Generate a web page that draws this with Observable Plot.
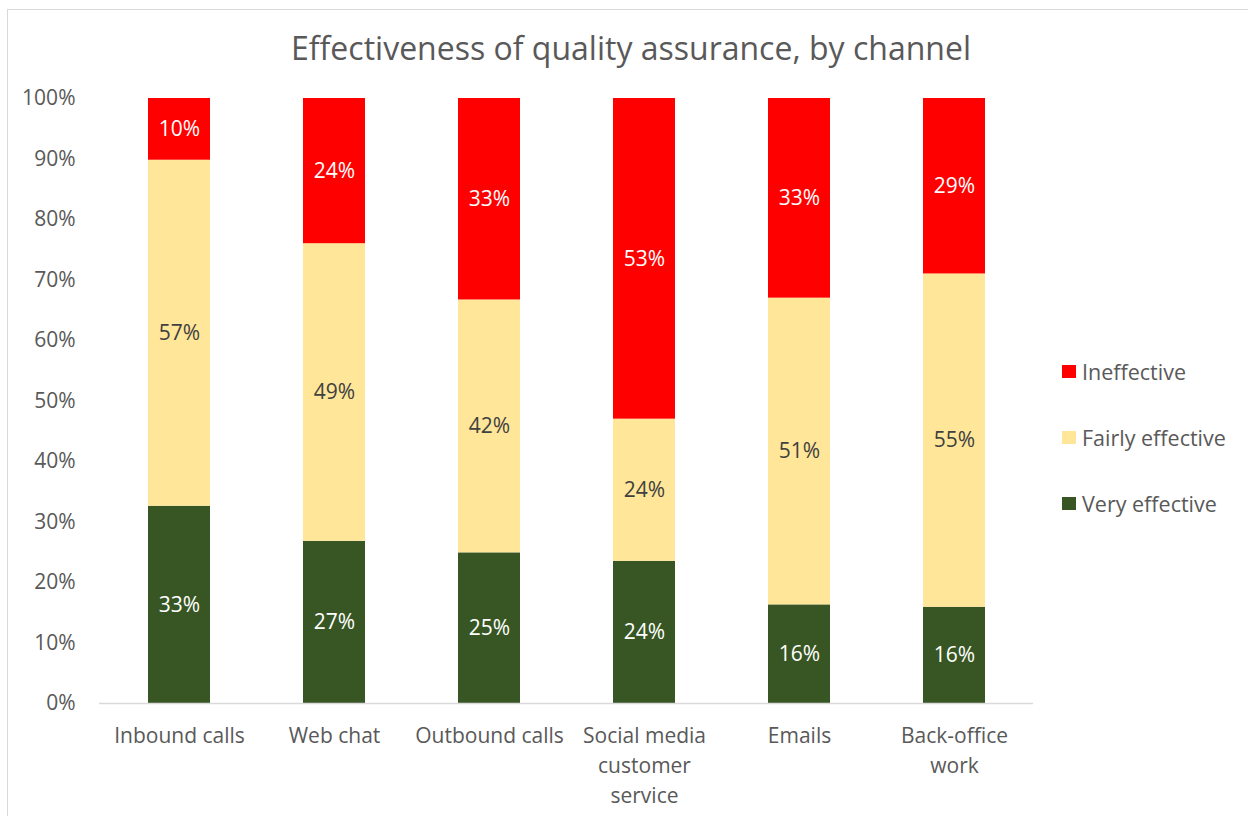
<!DOCTYPE html>
<html><head><meta charset="utf-8">
<script src="https://cdn.jsdelivr.net/npm/d3@7"></script>
<script src="https://cdn.jsdelivr.net/npm/@observablehq/plot@0.6"></script>
<style>
body{margin:0;background:#fff;font-family:"Open Sans",sans-serif;}
#chart{position:relative;width:1248px;height:816px;overflow:hidden;background:#fff;}
#frame{position:absolute;left:7px;top:9px;width:1260px;height:830px;border-top:1.5px solid #d9d9d9;border-left:1.5px solid #d9d9d9;}
#title{position:absolute;left:0;width:1262px;top:26px;text-align:center;font-size:32px;color:#595959;white-space:nowrap;}
#plot{position:absolute;left:0;top:80px;}
#legend{position:absolute;left:1062px;top:338.5px;}
.item{display:flex;align-items:center;height:66px;font-size:21.5px;color:#595959;white-space:nowrap;}
.sw{width:14px;height:13px;margin-right:6px;flex:none;}
</style>
</head><body>
<div id="chart">
  <div id="frame"></div>
  <div id="title">Effectiveness of quality assurance, by channel</div>
  <div id="plot"></div>
  <div id="legend"></div>
</div>
<script>
const channels = ["Inbound calls","Web chat","Outbound calls","Social media customer service","Emails","Back-office work"];
const xTickLabels = ["Inbound calls","Web chat","Outbound calls","Social media\ncustomer\nservice","Emails","Back-office\nwork"];
const categories = ["Very effective","Fairly effective","Ineffective"];
const veryEffective   = [32.6, 26.8, 24.9, 23.5, 16.3, 15.9];
const fairlyEffective = [57.2, 49.2, 41.8, 23.5, 50.7, 55.1];
const ineffective     = [10.2, 24.0, 33.3, 53.0, 33.0, 29.0];
const colors = ["#375623","#ffe699","#ff0000"];
const yTicks = [0,10,20,30,40,50,60,70,80,90,100];

const seriesValues = [veryEffective, fairlyEffective, ineffective];
const rows = [];
categories.forEach((c, ci) => channels.forEach((ch, i) => rows.push({channel: ch, category: c, value: seriesValues[ci][i]})));

const font = "Open Sans";
const chart = Plot.plot({
  width: 1248, height: 736,
  marginTop: 18, marginBottom: 113, marginLeft: 99, marginRight: 215,
  style: {fontFamily: font, background: "transparent", overflow: "visible"},
  x: {domain: channels, paddingInner: 0.6, paddingOuter: 0.3, axis: null},
  y: {domain: [0, 100], axis: null},
  color: {domain: categories, range: colors},
  marks: [
    Plot.axisY({ticks: yTicks, tickFormat: d => d + "%", tickSize: 0, tickPadding: 24, fontSize: 21, fill: "#595959", label: null}),
    Plot.axisX({tickSize: 0, tickPadding: 18, tickFormat: d => xTickLabels[channels.indexOf(d)], fontSize: 21, lineHeight: 1.43, fill: "#595959", label: null}),
    Plot.barY(rows, {x: "channel", y: "value", fill: "category"}),
    Plot.ruleY([0], {stroke: "#d9d9d9", strokeWidth: 1.5}),
    Plot.text(rows, Plot.stackY({x: "channel", y: "value", z: "category",
      text: d => d.category === "Fairly effective" ? null : Math.round(d.value) + "%",
      fill: "#ffffff", fontSize: 21})),
    Plot.text(rows, Plot.stackY({x: "channel", y: "value", z: "category",
      text: d => d.category === "Fairly effective" ? Math.round(d.value) + "%" : null,
      fill: "#404040", fontSize: 21}))
  ]
});
document.getElementById("plot").appendChild(chart);

const legend = document.getElementById("legend");
[...categories].reverse().forEach(c => {
  const div = document.createElement("div");
  div.className = "item";
  const sw = document.createElement("span");
  sw.className = "sw";
  sw.style.background = colors[categories.indexOf(c)];
  const t = document.createElement("span");
  t.textContent = c;
  div.appendChild(sw); div.appendChild(t);
  legend.appendChild(div);
});
</script>
</body></html>
